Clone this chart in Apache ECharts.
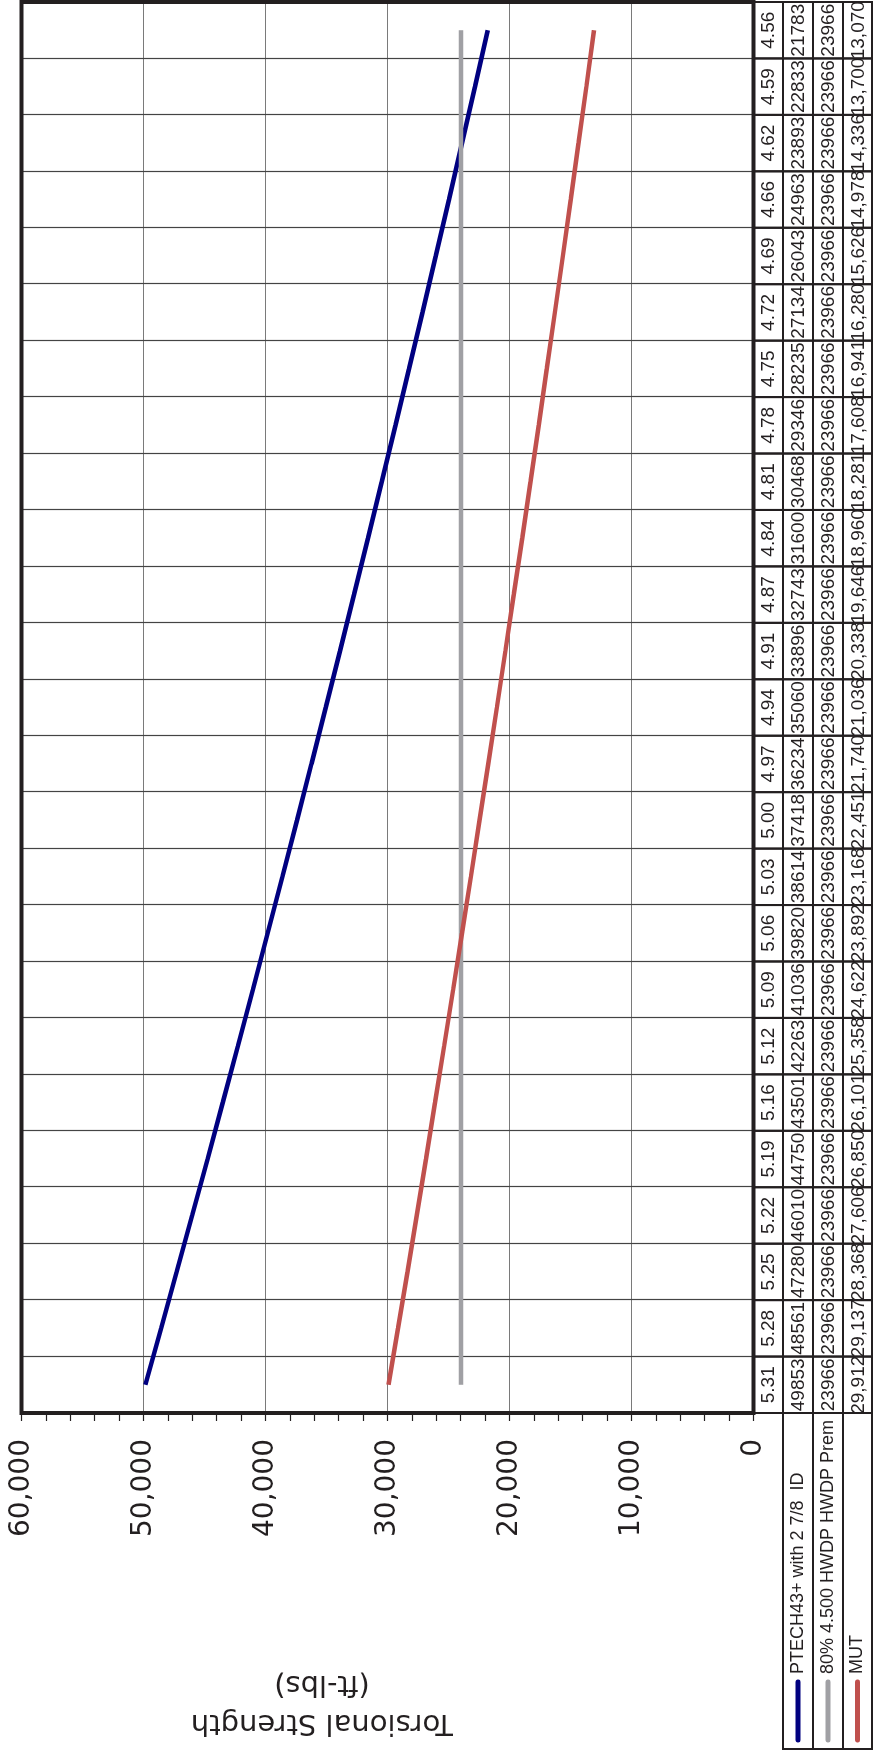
<!DOCTYPE html>
<html><head><meta charset="utf-8">
<script src="https://cdn.jsdelivr.net/npm/echarts@6/dist/echarts.min.js"></script>
<style>
html,body{margin:0;padding:0;width:873px;height:1754px;overflow:hidden;background:#fff;}
#chart{position:absolute;left:0;top:1754px;width:1754px;height:873px;transform-origin:0 0;transform:rotate(-90deg);}
</style></head><body>
<div id="chart"></div>
<script>
const categories = ['5.31','5.28','5.25','5.22','5.19','5.16','5.12','5.09','5.06','5.03','5.00','4.97','4.94','4.91','4.87','4.84','4.81','4.78','4.75','4.72','4.69','4.66','4.62','4.59','4.56'];
const ptech = [49853,48561,47280,46010,44750,43501,42263,41036,39820,38614,37418,36234,35060,33896,32743,31600,30468,29346,28235,27134,26043,24963,23893,22833,21783];
const hwdp = [23966,23966,23966,23966,23966,23966,23966,23966,23966,23966,23966,23966,23966,23966,23966,23966,23966,23966,23966,23966,23966,23966,23966,23966,23966];
const mut = [29912,29137,28368,27606,26850,26101,25358,24622,23892,23168,22451,21740,21036,20338,19646,18960,18281,17608,16941,16280,15626,14978,14336,13700,13070];
const seriesNames = ['PTECH43+ with 2 7/8  ID','80% 4.500 HWDP HWDP Prem','MUT'];
const seriesColors = ['#000080','#a0a0a4','#c0504d'];
const valueMin = 0, valueMax = 60000, valueStep = 10000;
const axisTitle = 'Torsional Strength\n(ft-lbs)';

function fmt(n){ return String(n).replace(/\B(?=(\d{3})+(?!\d))/g, ','); }

const ink = '#231f20';
const tableFont = '19px "Liberation Sans", Arial, sans-serif';
const legendFont = '18px "Liberation Sans", Arial, sans-serif';
const rowsY = [753.5, 783, 813, 843, 872];

const chart = echarts.init(document.getElementById('chart'), null, {renderer:'canvas'});

const legendGraphics = [];
for (let r = 0; r < 3; r++) {
  const y0 = rowsY[r+1], y1 = rowsY[r+2], cy = (y0 + y1) / 2;
  legendGraphics.push({type:'rect', shape:{x:5, y:y0, width:336, height:y1-y0}, style:{fill:'transparent', stroke:ink, lineWidth:2}, z:10});
  legendGraphics.push({type:'line', shape:{x1:14, y1:cy, x2:72, y2:cy}, style:{stroke:seriesColors[r], lineWidth:5, lineCap:'round'}, z:11});
  legendGraphics.push({type:'text', x:80, y:cy, style:{text:seriesNames[r], fill:ink, font:legendFont, align:'left', verticalAlign:'middle'}, z:11});
}
legendGraphics.push({type:'text', x:51, y:322, rotation:Math.PI/2,
  style:{text:axisTitle, fill:ink, font:'29px "DejaVu Sans", sans-serif', align:'center', verticalAlign:'middle', lineHeight:39}, z:11});

const option = {
  animation:false,
  backgroundColor:'#fff',
  grid:{left:341, right:2, top:21.5, bottom:119.5, show:true, borderColor:ink, borderWidth:4, backgroundColor:'transparent', z:5},
  xAxis:{type:'category', data:categories, boundaryGap:true,
    axisLine:{show:false}, axisTick:{show:false}, axisLabel:{show:false},
    splitLine:{show:true, interval:0, lineStyle:{color:'#444', width:1.2}}},
  yAxis:{type:'value', min:valueMin, max:valueMax, interval:valueStep,
    axisLine:{show:false},
    axisTick:{show:true, inside:false, length:8, lineStyle:{color:ink, width:1.2}},
    minorTick:{show:true, splitNumber:5, length:8, lineStyle:{color:ink, width:1.2}},
    axisLabel:{margin:26, color:ink, fontSize:28, fontFamily:'"DejaVu Sans", sans-serif', formatter:v=>fmt(v)},
    splitLine:{show:true, lineStyle:{color:'#7a7a7a', width:1.2}}},
  graphic:legendGraphics,
  series:[
    {name:seriesNames[0], type:'line', data:ptech, symbol:'none', lineStyle:{color:seriesColors[0], width:4.5}, z:3},
    {name:seriesNames[1], type:'line', data:hwdp, symbol:'none', lineStyle:{color:seriesColors[1], width:4.5}, z:3},
    {name:seriesNames[2], type:'line', data:mut, symbol:'none', lineStyle:{color:seriesColors[2], width:4.5}, z:3},
    {type:'custom', name:'table', silent:true, clip:false, z:8,
      data:categories.map((c,i)=>[i,0]),
      renderItem:function(params, api){
        const i = params.dataIndex;
        const c = api.coord([i, 0]);
        const w = api.size([1, 0])[0];
        const x0 = c[0] - w/2;
        const texts = [categories[i], String(ptech[i]), String(hwdp[i]), fmt(mut[i])];
        const children = [];
        for (let r = 0; r < 4; r++) {
          children.push({type:'rect', shape:{x:x0, y:rowsY[r], width:w, height:rowsY[r+1]-rowsY[r]},
            style:{fill:'transparent', stroke:ink, lineWidth:2}});
        }
        for (let r = 0; r < 4; r++) {
          children.push({type:'text', x:c[0], y:(rowsY[r]+rowsY[r+1])/2+1,
            style:{text:texts[r], fill:ink, font:tableFont, align:'center', verticalAlign:'middle'}});
        }
        return {type:'group', children:children};
      }}
  ]
};
chart.setOption(option);
</script>
</body></html>
